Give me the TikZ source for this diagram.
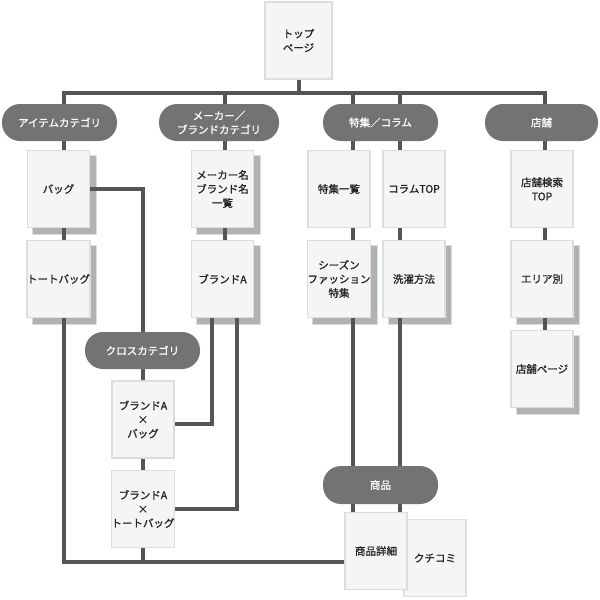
\documentclass[tikz,border=0pt]{standalone}
\usepackage{fontspec}
\newfontfamily\jp{Noto Sans CJK JP}[FakeBold=1]
\pgfdeclarelayer{bglayer}
\pgfdeclarelayer{shadowlayer}
\pgfdeclarelayer{linelayer}
\pgfsetlayers{bglayer,shadowlayer,linelayer,main}
\definecolor{linec}{HTML}{555555}
\definecolor{pillc}{HTML}{737373}
\definecolor{boxfill}{HTML}{F5F5F5}
\definecolor{boxline}{HTML}{D9DEE2}
\definecolor{shadc}{HTML}{B2B2B2}
\definecolor{txtc}{HTML}{222222}
\newcommand\stackshadow[1]{\begin{pgfonlayer}{shadowlayer}\draw[fill=shadc,draw=boxline,line width=1pt] ([shift={(6,6)}]#1.north west) rectangle ([shift={(6,6)}]#1.south east);\end{pgfonlayer}}
\begin{document}
\begin{tikzpicture}[x=1pt,y=-1pt,font=\jp\fontsize{10.5}{14}\selectfont,
 page/.style={draw=boxline,line width=1.5pt,fill=boxfill,minimum width=62pt,minimum height=77pt,inner sep=0pt,align=center,text=txtc},
 pill/.style={fill=pillc,rounded corners=18pt,minimum height=37pt,inner sep=0pt,text=white,align=center},
 conn/.style={draw=linec,line width=4pt,line join=miter}]
\begin{pgfonlayer}{bglayer}
\fill[white] (0,0) rectangle (600,600);
\end{pgfonlayer}
\useasboundingbox (0,0) rectangle (600,600);
% pages
\node[page,minimum width=67pt] (top) at (298.5,40.5) {トップ\\ページ};
\node[pill,minimum width=115pt] (p1) at (59.5,122.5) {アイテムカテゴリ};
\node[pill,minimum width=120pt] (p2) at (219,122.5) {メーカー／\\ブランドカテゴリ};
\node[pill,minimum width=115pt] (p3) at (380.5,122.5) {特集／コラム};
\node[pill,minimum width=113pt] (p4) at (541.5,122.5) {店舗};
\node[page] (bag) at (58.5,189) {バッグ};
\node[page] (tote) at (58.5,279) {トートバッグ};
\node[page] (maker) at (222.5,189) {メーカー名\\ブランド名\\一覧};
\node[page] (brandA) at (222.5,279) {ブランドA};
\node[page] (toku) at (339,189) {特集一覧};
\node[page] (season) at (339,279) {シーズン\\ファッション\\特集};
\node[page] (coltop) at (414,189) {コラムTOP};
\node[page] (wash) at (414,279) {洗濯方法};
\node[page] (shoptop) at (542,189) {店舗検索\\TOP};
\node[page] (area) at (542,279) {エリア別};
\node[page] (shoppage) at (542,369) {店舗ページ};
\node[pill,minimum width=115pt] (cross) at (142.5,350.5) {クロスカテゴリ};
\node[page] (bx1) at (143,419.5) {ブランドA\\×\\バッグ};
\node[page] (bx2) at (143,509) {ブランドA\\×\\トートバッグ};
\node[pill,minimum width=115pt,minimum height=38pt] (item) at (380.5,485) {商品};
\node[page] (kuchi) at (435,558) {クチコミ};
\node[page] (detail) at (376,551) {商品詳細};
% shadows
\stackshadow{bag}\stackshadow{tote}\stackshadow{maker}\stackshadow{brandA}
\stackshadow{season}\stackshadow{wash}\stackshadow{area}\stackshadow{shoppage}
% connectors
\coordinate (h1) at (64,93);
\coordinate (h2) at (225,93);
\coordinate (h3) at (353,93);
\coordinate (h4) at (400,93);
\coordinate (h5) at (545,93);
\coordinate (bl) at (64,562);
\begin{pgfonlayer}{linelayer}
\draw[conn] (top.center) -- (top.center |- h1);
\draw[conn] (detail.west |- bl) -- (bl) -- (h1) -- (h5) -- (h5 |- shoppage.center);
\draw[conn] (h2) -- (h2 |- brandA.center);
\draw[conn] (h3) -- (h3 |- detail.center);
\draw[conn] (h4) -- (h4 |- detail.center);
\draw[conn] (bag.east) -| (bx2.center |- bl);
\draw[conn] ([xshift=-10.5pt]brandA.south) |- ([yshift=-4pt]bx1.east);
\draw[conn] ([xshift=14.5pt]brandA.south) |- (bx2.east);
\end{pgfonlayer}
\end{tikzpicture}
\end{document}
